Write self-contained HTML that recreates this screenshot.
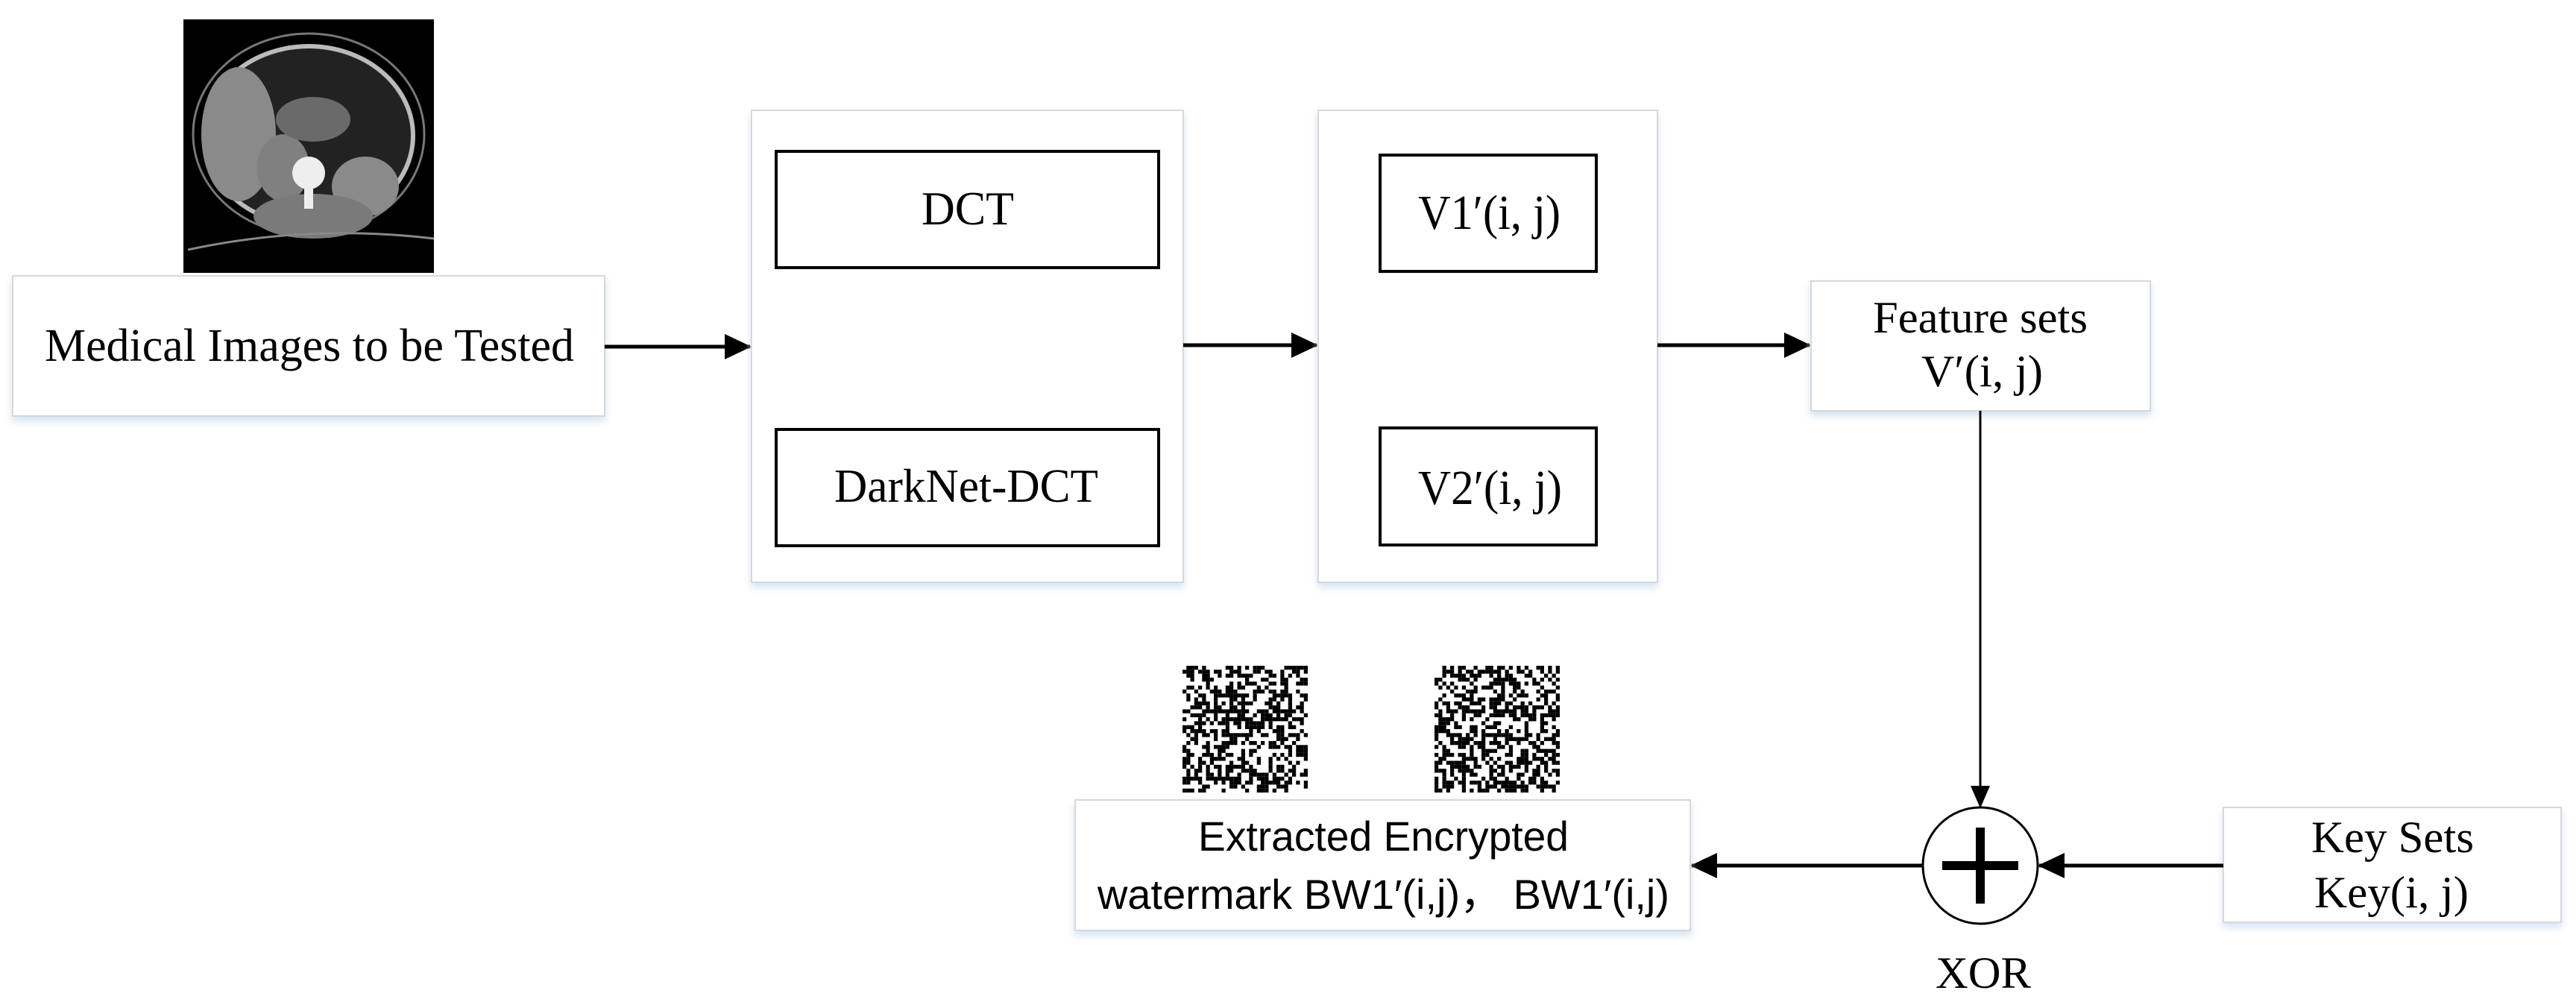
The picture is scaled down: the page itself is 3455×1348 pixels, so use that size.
<!DOCTYPE html>
<html><head><meta charset="utf-8"><style>
html,body{margin:0;padding:0;background:#fff;}
svg{display:block;}
.serif{font-family:"Liberation Serif",serif;fill:#000;}
.sans{font-family:"Liberation Sans",sans-serif;fill:#000;}
</style></head><body>
<svg width="3455" height="1348" viewBox="0 0 3455 1348" xmlns="http://www.w3.org/2000/svg">
<defs>
<filter id="sh" x="-5%" y="-5%" width="110%" height="115%">
<feDropShadow dx="0" dy="6" stdDeviation="5" flood-color="#c8dcef" flood-opacity="0.8"/>
</filter>
<marker id="ah" markerWidth="36" markerHeight="34" refX="34" refY="17" orient="auto" markerUnits="userSpaceOnUse" viewBox="0 0 36 34">
<path d="M0,0 L36,17 L0,34 z" fill="#000"/>
</marker>
<marker id="ah2" markerWidth="30" markerHeight="26" refX="29" refY="13" orient="auto" markerUnits="userSpaceOnUse" viewBox="0 0 30 26">
<path d="M0,0 L30,13 L0,26 z" fill="#000"/>
</marker>
</defs>

<!-- CT image -->
<rect x="246" y="26" width="336" height="340" fill="#000"/>
<ellipse cx="414" cy="180" rx="155" ry="135" fill="none" stroke="#777" stroke-width="3"/>
<ellipse cx="414" cy="182" rx="140" ry="120" fill="#222" stroke="#bbb" stroke-width="6"/>
<ellipse cx="320" cy="180" rx="50" ry="90" fill="#8a8a8a"/>
<ellipse cx="380" cy="225" rx="35" ry="45" fill="#808080"/>
<ellipse cx="490" cy="250" rx="45" ry="40" fill="#8a8a8a"/>
<ellipse cx="420" cy="160" rx="50" ry="30" fill="#6a6a6a"/>
<ellipse cx="420" cy="290" rx="80" ry="30" fill="#7a7a7a"/>
<circle cx="414" cy="232" r="22" fill="#eee"/>
<rect x="408" y="250" width="12" height="30" fill="#eee"/>
<path d="M252,335 Q414,300 582,320" stroke="#888" stroke-width="3" fill="none"/>

<!-- Medical box -->
<rect x="17" y="370" width="794" height="188" fill="#fff" stroke="#d8d8d8" stroke-width="2" filter="url(#sh)"/>
<text class="serif" x="60" y="484" font-size="62" textLength="710" lengthAdjust="spacingAndGlyphs">Medical Images to be Tested</text>
<line x1="811" y1="465" x2="1006" y2="465" stroke="#000" stroke-width="5" marker-end="url(#ah)"/>

<!-- Box 2 -->
<rect x="1008" y="148" width="579" height="633" fill="#fff" stroke="#d8d8d8" stroke-width="2" filter="url(#sh)"/>
<rect x="1041" y="203" width="513" height="156" fill="#fff" stroke="#000" stroke-width="4"/>
<text class="serif" x="1236" y="301" font-size="64" textLength="124" lengthAdjust="spacingAndGlyphs">DCT</text>
<rect x="1041" y="576" width="513" height="156" fill="#fff" stroke="#000" stroke-width="4"/>
<text class="serif" x="1119" y="673" font-size="64" textLength="354" lengthAdjust="spacingAndGlyphs">DarkNet-DCT</text>
<line x1="1587" y1="463" x2="1766" y2="463" stroke="#000" stroke-width="5" marker-end="url(#ah)"/>

<!-- Box 3 -->
<rect x="1768" y="148" width="455" height="633" fill="#fff" stroke="#d8d8d8" stroke-width="2" filter="url(#sh)"/>
<rect x="1851" y="208" width="290" height="156" fill="#fff" stroke="#000" stroke-width="4"/>
<text class="serif" x="1902" y="307" font-size="66" textLength="191" lengthAdjust="spacingAndGlyphs">V1′(i, j)</text>
<rect x="1851" y="574" width="290" height="157" fill="#fff" stroke="#000" stroke-width="4"/>
<text class="serif" x="1902" y="676" font-size="66" textLength="193" lengthAdjust="spacingAndGlyphs">V2′(i, j)</text>
<line x1="2223" y1="463" x2="2427" y2="463" stroke="#000" stroke-width="5" marker-end="url(#ah)"/>

<!-- Feature box -->
<rect x="2429" y="377" width="455" height="174" fill="#fff" stroke="#d8d8d8" stroke-width="2" filter="url(#sh)"/>
<text class="serif" x="2512" y="446" font-size="60" textLength="288" lengthAdjust="spacingAndGlyphs">Feature sets</text>
<text class="serif" x="2577" y="518" font-size="60" textLength="163" lengthAdjust="spacingAndGlyphs">V′(i, j)</text>
<line x1="2656" y1="551" x2="2656" y2="1083" stroke="#000" stroke-width="3" marker-end="url(#ah2)"/>

<!-- XOR -->
<ellipse cx="2656" cy="1161" rx="77" ry="78" fill="#fff" stroke="#000" stroke-width="3"/>
<rect x="2650" y="1110" width="12" height="102" fill="#000"/>
<rect x="2605" y="1155" width="102" height="12" fill="#000"/>
<text class="serif" x="2596" y="1325" font-size="60" textLength="128" lengthAdjust="spacingAndGlyphs">XOR</text>

<!-- Key box -->
<rect x="2982" y="1083" width="453" height="154" fill="#fff" stroke="#d8d8d8" stroke-width="2" filter="url(#sh)"/>
<text class="serif" x="3100" y="1143" font-size="60" textLength="218" lengthAdjust="spacingAndGlyphs">Key Sets</text>
<text class="serif" x="3104" y="1217" font-size="60" textLength="207" lengthAdjust="spacingAndGlyphs">Key(i, j)</text>
<line x1="2982" y1="1161" x2="2735" y2="1161" stroke="#000" stroke-width="5" marker-end="url(#ah)"/>

<!-- arrow to extracted -->
<line x1="2579" y1="1161" x2="2269" y2="1161" stroke="#000" stroke-width="5" marker-end="url(#ah)"/>

<!-- Extracted box -->
<rect x="1442" y="1073" width="825" height="175" fill="#fff" stroke="#d8d8d8" stroke-width="2" filter="url(#sh)"/>
<text class="sans" x="1607" y="1141" font-size="56" textLength="497" lengthAdjust="spacingAndGlyphs">Extracted Encrypted</text>
<text class="sans" x="1472" y="1219" font-size="56" textLength="767" lengthAdjust="spacingAndGlyphs">watermark BW1′(i,j)， BW1′(i,j)</text>

<!-- QR codes -->
<g id="qrs"></g>
</svg>
<script>
(function(){
  var g=document.getElementById('qrs');var ns='http://www.w3.org/2000/svg';
  var seed=12345;function r(){seed=(seed*1103515245+12345)&0x7fffffff;return seed/0x7fffffff;}
  [[1586,893],[1924,893]].forEach(function(p){
    var n=32,w=168/n,h=170/n;
    var bg=document.createElementNS(ns,'rect');bg.setAttribute('x',p[0]);bg.setAttribute('y',p[1]);bg.setAttribute('width',168);bg.setAttribute('height',170);bg.setAttribute('fill','#fff');g.appendChild(bg);
    for(var i=0;i<n;i++)for(var j=0;j<n;j++){if(r()<0.5){var e=document.createElementNS(ns,'rect');e.setAttribute('x',(p[0]+i*w).toFixed(2));e.setAttribute('y',(p[1]+j*h).toFixed(2));e.setAttribute('width',w.toFixed(2));e.setAttribute('height',h.toFixed(2));e.setAttribute('fill','#000');g.appendChild(e);}}
  });
})();
</script>
</body></html>
